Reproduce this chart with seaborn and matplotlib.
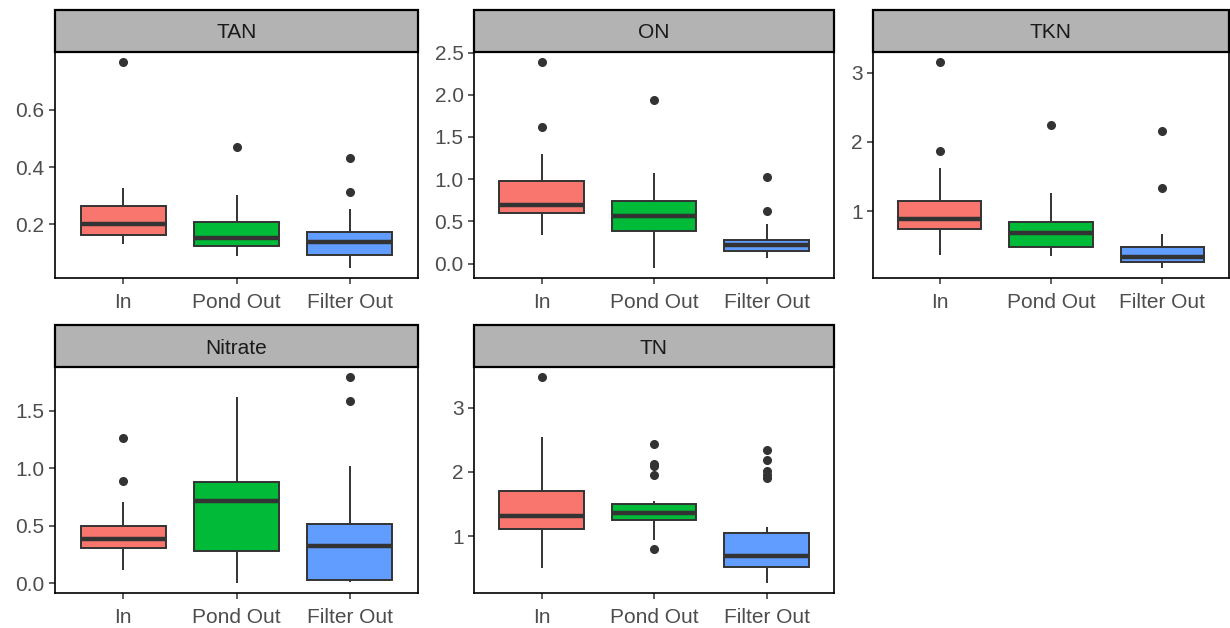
import pandas as pd
import seaborn as sns
import matplotlib.pyplot as plt
from matplotlib.patches import Rectangle

sns.set_style('white')
plt.rcParams['font.family'] = ['Liberation Sans', 'DejaVu Sans']

sites = ['In', 'Pond Out', 'Filter Out']
params = ['TAN', 'ON', 'TKN', 'Nitrate', 'TN']
colors = ['#F8766D', '#00BA38', '#619CFF']

# samples (sorted, per site)
tan_in = [0.13, 0.14, 0.145, 0.15, 0.155, 0.162, 0.17, 0.18, 0.19, 0.196, 0.203,
          0.21, 0.225, 0.24, 0.25, 0.263, 0.27, 0.28, 0.30, 0.326, 0.765]
tan_pond = [0.091, 0.10, 0.11, 0.115, 0.12, 0.124, 0.13, 0.135, 0.14, 0.148, 0.153,
            0.16, 0.17, 0.18, 0.195, 0.207, 0.215, 0.23, 0.26, 0.302, 0.471]
tan_filter = [0.049, 0.06, 0.07, 0.08, 0.087, 0.092, 0.10, 0.11, 0.12, 0.13, 0.14,
              0.145, 0.15, 0.16, 0.168, 0.175, 0.19, 0.22, 0.253, 0.313, 0.433]

on_in = [0.34, 0.42, 0.50, 0.55, 0.58, 0.60, 0.62, 0.64, 0.66, 0.68, 0.69,
         0.72, 0.78, 0.85, 0.92, 0.98, 1.05, 1.15, 1.30, 1.62, 2.385]
on_pond = [-0.05, 0.15, 0.25, 0.32, 0.36, 0.39, 0.42, 0.46, 0.50, 0.54, 0.567,
           0.60, 0.64, 0.68, 0.72, 0.745, 0.80, 0.88, 0.95, 1.075, 1.94]
on_filter = [0.06, 0.09, 0.11, 0.13, 0.14, 0.146, 0.16, 0.18, 0.195, 0.21, 0.218,
             0.23, 0.24, 0.255, 0.27, 0.28, 0.30, 0.35, 0.47, 0.62, 1.02]

tkn_in = [0.36, 0.50, 0.60, 0.68, 0.72, 0.74, 0.77, 0.80, 0.84, 0.87, 0.884,
          0.92, 0.98, 1.05, 1.10, 1.15, 1.25, 1.40, 1.62, 1.87, 3.15]
tkn_pond = [0.343, 0.38, 0.42, 0.45, 0.46, 0.474, 0.52, 0.57, 0.62, 0.65, 0.677,
            0.70, 0.74, 0.78, 0.82, 0.845, 0.90, 1.00, 1.10, 1.26, 2.24]
tkn_filter = [0.18, 0.20, 0.22, 0.24, 0.26, 0.27, 0.28, 0.30, 0.31, 0.325, 0.338,
              0.36, 0.39, 0.42, 0.45, 0.474, 0.52, 0.58, 0.667, 1.33, 2.16]

nit_in = [0.117, 0.20, 0.25, 0.28, 0.30, 0.307, 0.32, 0.34, 0.36, 0.375, 0.386,
          0.40, 0.42, 0.45, 0.48, 0.50, 0.55, 0.62, 0.707, 0.891, 1.266]
nit_pond = [0.005, 0.08, 0.15, 0.20, 0.25, 0.28, 0.38, 0.50, 0.60, 0.67, 0.713,
            0.74, 0.77, 0.80, 0.84, 0.877, 0.95, 1.05, 1.20, 1.40, 1.62]
nit_filter = [0.011, 0.013, 0.015, 0.02, 0.023, 0.026, 0.06, 0.12, 0.20, 0.27, 0.321,
              0.36, 0.40, 0.44, 0.48, 0.517, 0.60, 0.75, 1.023, 1.58, 1.79]

tn_in = [0.50, 0.70, 0.85, 0.95, 1.02, 1.08, 1.11, 1.15, 1.19, 1.23, 1.27, 1.30, 1.32,
         1.36, 1.42, 1.50, 1.58, 1.65, 1.70, 1.80, 1.95, 2.10, 2.30, 2.55, 3.48]
tn_pond = [0.80, 0.93, 1.10, 1.18, 1.22, 1.24, 1.25, 1.27, 1.29, 1.31, 1.33, 1.345, 1.354,
           1.37, 1.40, 1.43, 1.46, 1.48, 1.50, 1.52, 1.54, 1.96, 2.10, 2.12, 2.44]
tn_filter = [0.27, 0.35, 0.40, 0.45, 0.48, 0.50, 0.51, 0.54, 0.57, 0.60, 0.63, 0.66, 0.68,
             0.72, 0.80, 0.88, 0.95, 1.00, 1.05, 1.14, 1.91, 1.96, 2.02, 2.18, 2.35]

data = {
    'TAN': [tan_in, tan_pond, tan_filter],
    'ON': [on_in, on_pond, on_filter],
    'TKN': [tkn_in, tkn_pond, tkn_filter],
    'Nitrate': [nit_in, nit_pond, nit_filter],
    'TN': [tn_in, tn_pond, tn_filter],
}

yticks = {
    'TAN': [0.2, 0.4, 0.6],
    'ON': [0.0, 0.5, 1.0, 1.5, 2.0, 2.5],
    'TKN': [1, 2, 3],
    'Nitrate': [0.0, 0.5, 1.0, 1.5],
    'TN': [1, 2, 3],
}
ylabels = {
    'TAN': ['0.2', '0.4', '0.6'],
    'ON': ['0.0', '0.5', '1.0', '1.5', '2.0', '2.5'],
    'TKN': ['1', '2', '3'],
    'Nitrate': ['0.0', '0.5', '1.0', '1.5'],
    'TN': ['1', '2', '3'],
}

rows = []
for p in params:
    for s, vals in zip(sites, data[p]):
        for v in vals:
            rows.append({'param': p, 'site': s, 'value': v})
df = pd.DataFrame(rows)

W, H = 1230, 628
fig = plt.figure(figsize=(W / 100, H / 100), dpi=100)

# panel boxes in pixels: left, top, width, height
boxes = [(55, 52, 363, 226), (474, 52, 360, 226), (873, 52, 356, 226),
         (55, 367, 363, 226), (474, 367, 360, 226)]
strip_h = 42

for p, (l, t, w, h) in zip(params, boxes):
    ax = fig.add_axes([l / W, 1 - (t + h) / H, w / W, h / H])
    sub = df[df['param'] == p]
    sns.boxplot(data=sub, x='site', y='value', hue='site', order=sites, hue_order=sites,
                palette=colors, saturation=1, width=0.75, linewidth=1.4, linecolor='#333333',
                showcaps=False, legend=False, whis=1.5, ax=ax,
                medianprops={'linewidth': 3.2, 'color': '#333333'},
                flierprops={'marker': 'o', 'markersize': 5.5,
                            'markerfacecolor': '#333333', 'markeredgecolor': '#333333'})
    lo, hi = sub['value'].min(), sub['value'].max()
    pad = 0.05 * (hi - lo)
    ax.set_ylim(lo - pad, hi + pad)
    ax.set_xlim(-0.6, 2.6)
    ax.set_yticks(yticks[p])
    ax.set_yticklabels(ylabels[p])
    ax.set_xlabel('')
    ax.set_ylabel('')
    ax.tick_params(axis='both', labelsize=15, colors='#333333', labelcolor='#4D4D4D',
                   length=4.5, width=1.1, left=True, bottom=True)
    ax.tick_params(axis='x', pad=6)
    ax.tick_params(axis='y', pad=3)
    for sp in ax.spines.values():
        sp.set_color('black')
        sp.set_linewidth(1.2)
    ax.grid(False)
    # facet strip
    sh = strip_h / h
    ax.add_patch(Rectangle((0, 1), 1, sh, transform=ax.transAxes, clip_on=False,
                           facecolor='#B3B3B3', edgecolor='black', linewidth=1.6))
    ax.text(0.5, 1 + sh / 2, p, transform=ax.transAxes, ha='center', va='center_baseline',
            fontsize=15, color='#1A1A1A')

fig.savefig('out.png', dpi=100)
